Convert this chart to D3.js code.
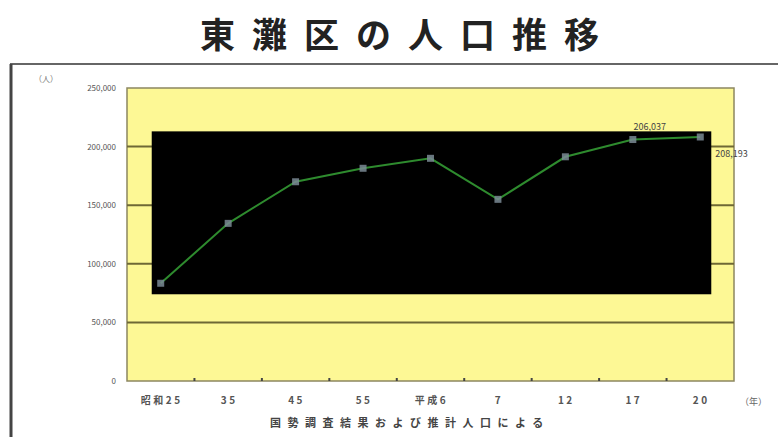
<!DOCTYPE html>
<html>
<head>
<meta charset="utf-8">
<script src="https://cdn.jsdelivr.net/npm/d3@7"></script>
<style>
  body { margin: 0; background: #fff; }
  svg { display: block; font-family: "Noto Sans CJK JP", sans-serif; }
</style>
</head>
<body>
<script>
/* global d3 */

const years = ['昭和25', '35', '45', '55', '平成6', '7', '12', '17', '20']
const population = [83400, 134500, 170000, 181500, 190000, 155000, 191300, 206037, 208193]
const yTicks = [0, 50000, 100000, 150000, 200000, 250000]
const pointLabels = [
  { i: 7, text: '206,037' },
  { i: 8, text: '208,193' }
]

const W = 778, H = 437
const svg = d3.select('body').append('svg')
  .attr('width', W)
  .attr('height', H)

const plot = { left: 127, right: 734, top: 88, bottom: 381 }

const x = d3.scalePoint()
  .domain(years)
  .range([plot.left, plot.right])
  .padding(0.5)

const y = d3.scaleLinear()
  .domain([0, 250000])
  .range([plot.bottom, plot.top])

// title
svg.append('text')
  .attr('x', 408)
  .attr('y', 48)
  .attr('text-anchor', 'middle')
  .attr('font-size', 35)
  .attr('font-weight', 'bold')
  .attr('letter-spacing', 17)
  .attr('fill', '#222')
  .text('東灘区の人口推移')

// frame
svg.append('line')
  .attr('x1', 10).attr('x2', W)
  .attr('y1', 64).attr('y2', 64)
  .attr('stroke', '#666').attr('stroke-width', 2)
svg.append('line')
  .attr('x1', 11).attr('x2', 11)
  .attr('y1', 64).attr('y2', H)
  .attr('stroke', '#444').attr('stroke-width', 3)

// plot background
svg.append('rect')
  .attr('x', plot.left)
  .attr('y', plot.top)
  .attr('width', plot.right - plot.left)
  .attr('height', plot.bottom - plot.top)
  .attr('fill', '#fdf895')
  .attr('stroke', '#8c8760')
  .attr('stroke-width', 1.5)

// gridlines
svg.selectAll('line.grid')
  .data(yTicks.filter(d => d > 0 && d < 250000))
  .enter().append('line')
  .attr('class', 'grid')
  .attr('x1', plot.left).attr('x2', plot.right)
  .attr('y1', d => y(d)).attr('y2', d => y(d))
  .attr('stroke', '#6e6835')
  .attr('stroke-width', 2)

// black panel
svg.append('rect')
  .attr('x', x(years[0]) - 9)
  .attr('y', y(213000))
  .attr('width', x(years[years.length - 1]) + 11 - (x(years[0]) - 9))
  .attr('height', y(74000) - y(213000))
  .attr('fill', '#000')

// y axis labels
svg.selectAll('text.ytick')
  .data(yTicks)
  .enter().append('text')
  .attr('class', 'ytick')
  .attr('x', 116)
  .attr('y', d => y(d) + 3)
  .attr('text-anchor', 'end')
  .attr('font-size', 8)
  .attr('fill', '#555')
  .text(d => d3.format(',')(d))

svg.append('text')
  .attr('x', 34).attr('y', 82)
  .attr('font-size', 8)
  .attr('fill', '#777')
  .text('（人）')

// x ticks between categories
const step = x.step()
svg.selectAll('line.xtick')
  .data(years.slice(1))
  .enter().append('line')
  .attr('class', 'xtick')
  .attr('x1', d => x(d) - step / 2).attr('x2', d => x(d) - step / 2)
  .attr('y1', plot.bottom).attr('y2', plot.bottom - 3)
  .attr('stroke', '#444').attr('stroke-width', 2)

svg.selectAll('text.xlabel')
  .data(years)
  .enter().append('text')
  .attr('class', 'xlabel')
  .attr('x', d => x(d) + 1)
  .attr('y', 404)
  .attr('text-anchor', 'middle')
  .attr('font-size', 10)
  .attr('font-weight', 'bold')
  .attr('letter-spacing', 2.5)
  .attr('fill', '#555')
  .text(d => d)

svg.append('text')
  .attr('x', 740).attr('y', 405)
  .attr('font-size', 9)
  .attr('fill', '#666')
  .text('（年）')

svg.append('text')
  .attr('x', 270).attr('y', 427)
  .attr('font-size', 11)
  .attr('font-weight', 'bold')
  .attr('letter-spacing', 6.5)
  .attr('fill', '#444')
  .text('国勢調査結果および推計人口による')

// line and markers
const line = d3.line()
  .x((d, i) => x(years[i]))
  .y(d => y(d))

svg.append('path')
  .datum(population)
  .attr('d', line)
  .attr('fill', 'none')
  .attr('stroke', '#2e8b2e')
  .attr('stroke-width', 2)

svg.selectAll('rect.marker')
  .data(population)
  .enter().append('rect')
  .attr('class', 'marker')
  .attr('x', (d, i) => x(years[i]) - 3.5)
  .attr('y', d => y(d) - 3.5)
  .attr('width', 7)
  .attr('height', 7)
  .attr('fill', '#7a8a94')
  .attr('opacity', 0.85)

// value labels
svg.append('text')
  .attr('x', x(years[pointLabels[0].i]) + 17)
  .attr('y', y(population[pointLabels[0].i]) - 10)
  .attr('text-anchor', 'middle')
  .attr('font-size', 9)
  .attr('fill', '#444')
  .text(pointLabels[0].text)

svg.append('text')
  .attr('x', x(years[pointLabels[1].i]) + 15)
  .attr('y', y(population[pointLabels[1].i]) + 20)
  .attr('font-size', 9)
  .attr('fill', '#444')
  .text(pointLabels[1].text)
</script>
</body>
</html>
